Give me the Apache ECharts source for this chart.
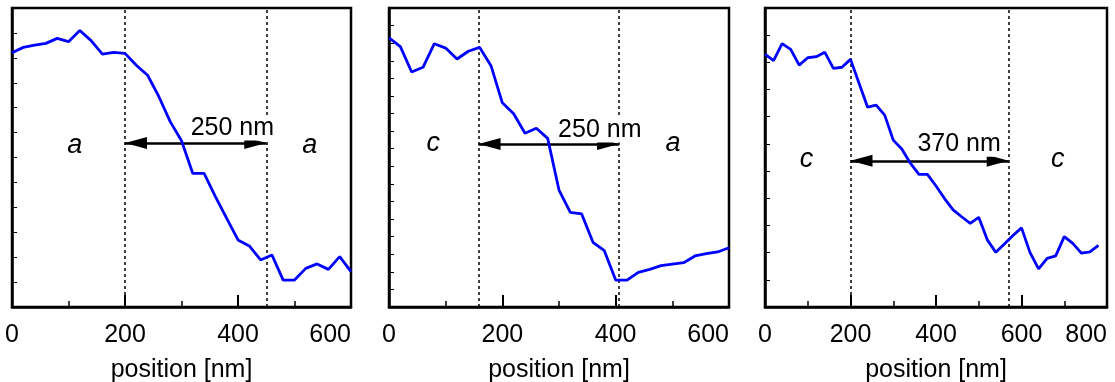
<!DOCTYPE html>
<html>
<head>
<meta charset="utf-8">
<script src="https://cdn.jsdelivr.net/npm/echarts@6/dist/echarts.min.js"></script>
<style>
  html, body { margin: 0; padding: 0; background: #fff; }
  #chart { width: 1115px; height: 382px; }
</style>
</head>
<body>
<div id="chart"></div>
<script>
// positions along the profile (nm)
const positionsA = [0, 20, 40, 60, 80, 100, 120, 140, 160, 180, 200, 220, 240, 260, 280, 300,
  320, 340, 360, 380, 400, 420, 440, 460, 480, 500, 520, 540, 560, 580, 600]
const positionsB = [0, 20, 40, 60, 80, 100, 120, 140, 160, 180, 200, 220, 240, 260, 280, 300,
  320, 340, 360, 380, 400, 420, 440, 460, 480, 500, 520, 540, 560, 580, 600]
const positionsC = [0, 20, 40, 60, 80, 100, 120, 140, 160, 180, 200, 220, 240, 260, 280, 300,
  320, 340, 360, 380, 400, 420, 440, 460, 480, 500, 520, 540, 560, 580, 600, 620, 640, 660,
  680, 700, 720, 740, 760, 780]

// profile values (arbitrary units)
const profileA = [10.20, 10.42, 10.51, 10.58, 10.78, 10.65, 11.10, 10.69, 10.15, 10.22, 10.18,
  9.70, 9.30, 8.44, 7.44, 6.67, 5.36, 5.36, 4.43, 3.56, 2.69, 2.45, 1.89, 2.09, 1.08, 1.08,
  1.55, 1.73, 1.51, 2.02, 1.42]
const profileB = [15.31, 14.80, 13.36, 13.63, 14.97, 14.72, 14.10, 14.54, 14.76, 13.72, 11.61,
  10.99, 9.88, 10.16, 9.59, 6.65, 5.38, 5.29, 3.68, 3.20, 1.53, 1.53, 1.97, 2.14, 2.35, 2.44,
  2.52, 2.90, 3.03, 3.13, 3.37]
const profileC = [9.30, 9.06, 9.69, 9.48, 8.90, 9.17, 9.21, 9.37, 8.78, 8.82, 9.11, 8.23, 7.35,
  7.43, 7.06, 6.14, 5.81, 5.29, 4.88, 4.88, 4.45, 3.99, 3.57, 3.32, 3.08, 3.30, 2.47, 2.01,
  2.32, 2.63, 2.91, 2.00, 1.40, 1.79, 1.88, 2.59, 2.34, 1.98, 2.03, 2.27]

// boundaries (nm) and width labels
const boundariesA = [200, 450]
const boundariesB = [158, 406]
const boundariesC = [200, 570]
const widthLabels = ["250 nm", "250 nm", "370 nm"]
const phaseLabels = [["a", "a"], ["c", "a"], ["c", "c"]]

const xMax = [600, 600, 800]
const yMax = [12, 17, 11]

const font = "'Liberation Sans', Arial, Helvetica, sans-serif"

const chart = echarts.init(document.getElementById("chart"))

const panels = [
  { x: positionsA, y: profileA, b: boundariesA, arrowY: 6.58, phaseY: 6.5, phaseX: [111, 527], textX: 390, textY: 7.18 },
  { x: positionsB, y: profileB, b: boundariesB, arrowY: 9.27, phaseY: 9.27, phaseX: [78, 501], textX: 372, textY: 10.06 },
  { x: positionsC, y: profileC, b: boundariesC, arrowY: 5.38, phaseY: 5.41, phaseX: [97, 685], textX: 454, textY: 5.99 },
]

const gridPos = [
  { left: 12, width: 339 },
  { left: 389, width: 340 },
  { left: 765, width: 342 },
]

const option = {
  animation: false,
  grid: gridPos.map((g) => ({
    left: g.left, width: g.width, top: 8, height: 299,
    outerBoundsMode: "none",
    containLabel: false,
    show: true, borderColor: "#000", borderWidth: 2.5, backgroundColor: "transparent",
  })),
  xAxis: panels.map((p, i) => ({
    gridIndex: i,
    type: "value",
    min: 0,
    max: xMax[i],
    interval: 200,
    axisLine: { show: true, lineStyle: { color: "#000", width: 2.5 } },
    axisTick: { show: true, inside: true, length: 12, lineStyle: { color: "#000", width: 2 } },
    minorTick: { show: true, splitNumber: 2, length: 6, lineStyle: { color: "#000", width: 1.5 } },
    splitLine: { show: false },
    minorSplitLine: { show: false },
    axisLabel: {
      color: "#000", fontSize: 25, fontFamily: font, margin: 16,
      alignMinLabel: "center", alignMaxLabel: "right",
    },
    name: "position [nm]",
    nameLocation: "middle",
    nameGap: 51,
    nameTextStyle: { color: "#000", fontSize: 25, fontFamily: font },
  })),
  yAxis: panels.map((p, i) => ({
    gridIndex: i,
    type: "value",
    min: 0,
    max: yMax[i],
    interval: 1,
    axisLine: { show: true, lineStyle: { color: "#000", width: 2.5 } },
    axisTick: { show: true, inside: true, length: 5, lineStyle: { color: "#000", width: 1 } },
    axisLabel: { show: false },
    splitLine: { show: false },
  })),
  series: panels.map((p, i) => ({
    type: "line",
    xAxisIndex: i,
    yAxisIndex: i,
    data: p.x.map((x, k) => [x, p.y[k]]),
    showSymbol: false,
    symbol: "none",
    lineStyle: { color: "#0000ff", width: 2.8 },
    z: 3,
    markLine: {
      silent: true,
      symbol: "none",
      z: 2,
      label: { show: false },
      lineStyle: { color: "#000", type: [3, 3], width: 1.5 },
      data: [
        { xAxis: p.b[0] },
        { xAxis: p.b[1] },
        [
          { coord: [p.b[0], p.arrowY], symbol: "triangle", symbolSize: [12, 22], symbolOffset: [0, 11],
            lineStyle: { type: "solid", width: 2.5, color: "#000" } },
          { coord: [p.b[1], p.arrowY], symbol: "triangle", symbolSize: [12, 22], symbolOffset: [0, 11] },
        ],
      ],
    },
    markPoint: {
      silent: true,
      symbol: "circle",
      symbolSize: 1,
      z: 10,
      itemStyle: { color: "rgba(0,0,0,0)" },
      label: { show: true, position: "inside", formatter: "{b}", color: "#000", fontSize: 25, fontFamily: font },
      data: [
        { name: phaseLabels[i][0], coord: [p.phaseX[0], p.phaseY], label: { fontStyle: "italic", fontSize: 27 } },
        { name: phaseLabels[i][1], coord: [p.phaseX[1], p.phaseY], label: { fontStyle: "italic", fontSize: 27 } },
        { name: widthLabels[i], coord: [p.textX, p.textY], label: { backgroundColor: "#fff", padding: [0, 1] } },
      ],
    },
  })),
}

chart.setOption(option)
</script>
</body>
</html>
